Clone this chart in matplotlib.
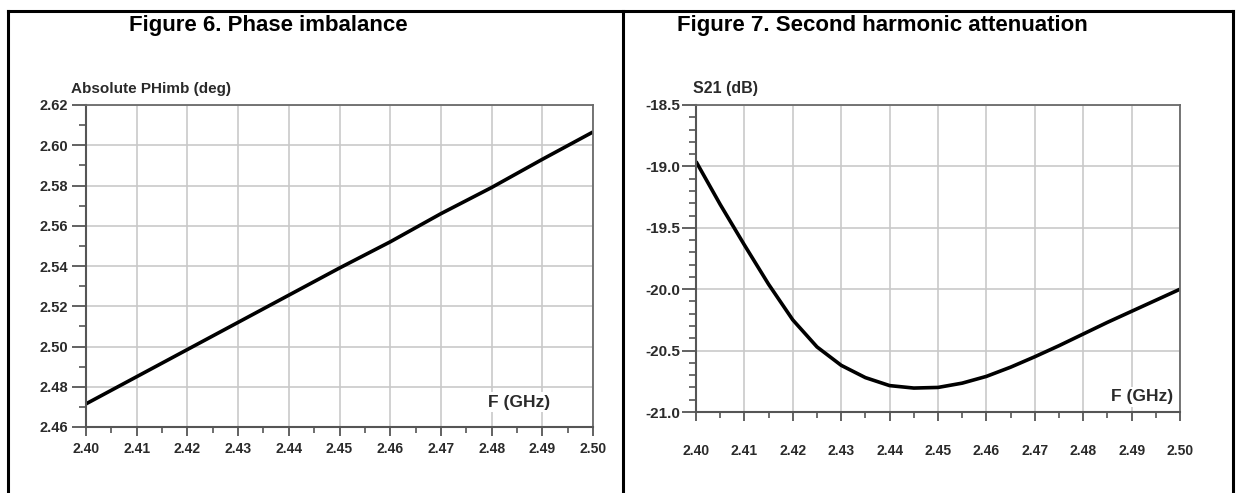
import matplotlib
matplotlib.use("Agg")
import matplotlib.pyplot as plt
from matplotlib.lines import Line2D
from matplotlib.ticker import MultipleLocator, FormatStrFormatter

# ---------------- data ----------------
titles = ["Figure 6. Phase imbalance", "Figure 7. Second harmonic attenuation"]
ylabels = ["Absolute PHimb (deg)", "S21 (dB)"]
xlabel = "F (GHz)"

# Figure 6: phase imbalance vs frequency
f6 = [2.40, 2.41, 2.42, 2.43, 2.44, 2.45, 2.46, 2.47, 2.48, 2.49, 2.50]
phimb = [2.4715, 2.485, 2.4985, 2.512, 2.5255, 2.539, 2.552, 2.566, 2.579, 2.593, 2.6066]

# Figure 7: S21 vs frequency
f7 = [2.400, 2.405, 2.410, 2.415, 2.420, 2.425, 2.430, 2.435, 2.440, 2.445,
      2.450, 2.455, 2.460, 2.465, 2.470, 2.475, 2.480, 2.485, 2.490, 2.495, 2.500]
s21 = [-18.96, -19.31, -19.64, -19.96, -20.25, -20.47, -20.62, -20.72, -20.785, -20.805,
       -20.80, -20.765, -20.71, -20.635, -20.55, -20.46, -20.365, -20.27, -20.18, -20.09, -20.0]

xticks = [2.40, 2.41, 2.42, 2.43, 2.44, 2.45, 2.46, 2.47, 2.48, 2.49, 2.50]
yticks6 = [2.46, 2.48, 2.50, 2.52, 2.54, 2.56, 2.58, 2.60, 2.62]
yticks7 = [-21.0, -20.5, -20.0, -19.5, -19.0, -18.5]

# ---------------- figure ----------------
W, H = 1237, 493
DPI = 100
plt.rcParams['font.family'] = ['Liberation Sans', 'DejaVu Sans']
fig = plt.figure(figsize=(W / DPI, H / DPI), dpi=DPI)
fig.patch.set_facecolor('white')


def fx(px):
    return px / W


def fy(py):
    return 1 - py / H


# table borders
lw_border = 2.2
fig.add_artist(Line2D([fx(8), fx(1233)], [fy(11), fy(11)], color='black', lw=lw_border,
                      transform=fig.transFigure, solid_capstyle='projecting'))
for xpx in (8, 623, 1233):
    fig.add_artist(Line2D([fx(xpx), fx(xpx)], [fy(11), fy(H + 5)], color='black', lw=lw_border,
                          transform=fig.transFigure, solid_capstyle='projecting'))

# titles
fig.text(fx(268), fy(25), titles[0], ha='center', va='center', fontsize=16, fontweight='bold')
fig.text(fx(882), fy(25), titles[1], ha='center', va='center', fontsize=16, fontweight='bold')


def style_axes(ax, xpad, ypad, xsize, ysize):
    ax.grid(True, which='major', color='#c9c9c9', lw=1.2)
    ax.set_axisbelow(True)
    for side in ('left', 'bottom'):
        ax.spines[side].set_color('#555555')
        ax.spines[side].set_linewidth(1.5)
    for side in ('top', 'right'):
        ax.spines[side].set_color('#6a6a6a')
        ax.spines[side].set_linewidth(1.3)
    ax.tick_params(axis='both', which='major', direction='out', color='#555555', width=1.3,
                   labelcolor='#2a2a2a')
    ax.tick_params(axis='x', which='major', length=6.5, pad=xpad, labelsize=xsize)
    ax.tick_params(axis='x', which='minor', length=4, width=1.2, color='#555555')
    ax.tick_params(axis='y', which='major', length=10, pad=ypad, labelsize=ysize)
    ax.tick_params(axis='y', which='minor', length=5, width=1.2, color='#555555')
    for lab in ax.get_xticklabels() + ax.get_yticklabels():
        lab.set_fontweight('bold')


# ---- Figure 6 ----
ax1 = fig.add_axes([fx(86), fy(427), fx(593) - fx(86), fy(105) - fy(427)])
ax1.plot(f6, phimb, color='black', lw=2.6, solid_capstyle='butt', solid_joinstyle='round')
ax1.set_xlim(2.40, 2.50)
ax1.set_ylim(2.46, 2.62)
ax1.set_xticks(xticks)
ax1.set_yticks(yticks6)
ax1.xaxis.set_minor_locator(MultipleLocator(0.005))
ax1.yaxis.set_minor_locator(MultipleLocator(0.01))
ax1.xaxis.set_major_formatter(FormatStrFormatter('%.2f'))
ax1.yaxis.set_major_formatter(FormatStrFormatter('%.2f'))
style_axes(ax1, xpad=4.5, ypad=3, xsize=10, ysize=10.5)
ax1.text((519 - 86) / 507, (427 - 402) / 322, xlabel, transform=ax1.transAxes, ha='center',
         va='center', fontsize=12.5, fontweight='bold', color='#2a2a2a',
         bbox=dict(facecolor='white', edgecolor='none', pad=1.5))
fig.text(fx(71), fy(89), ylabels[0], ha='left', va='center', fontsize=11, fontweight='bold',
         color='#2a2a2a')

# ---- Figure 7 ----
ax2 = fig.add_axes([fx(696), fy(412), fx(1180) - fx(696), fy(105) - fy(412)])
ax2.plot(f7, s21, color='black', lw=2.6, solid_capstyle='butt', solid_joinstyle='round')
ax2.set_xlim(2.40, 2.50)
ax2.set_ylim(-21.0, -18.5)
ax2.set_xticks(xticks)
ax2.set_yticks(yticks7)
ax2.xaxis.set_minor_locator(MultipleLocator(0.005))
ax2.yaxis.set_minor_locator(MultipleLocator(0.1))
ax2.xaxis.set_major_formatter(FormatStrFormatter('%.2f'))
ax2.yaxis.set_major_formatter(FormatStrFormatter('%.1f'))
style_axes(ax2, xpad=16.5, ypad=1, xsize=10, ysize=11)
ax2.text((1142 - 696) / 484, (412 - 397) / 307, xlabel, transform=ax2.transAxes, ha='center',
         va='center', fontsize=12.5, fontweight='bold', color='#2a2a2a',
         bbox=dict(facecolor='white', edgecolor='none', pad=1.5))
fig.text(fx(693), fy(89), ylabels[1], ha='left', va='center', fontsize=11.5, fontweight='bold',
         color='#2a2a2a')

fig.savefig('out.png', dpi=DPI, facecolor='white')
